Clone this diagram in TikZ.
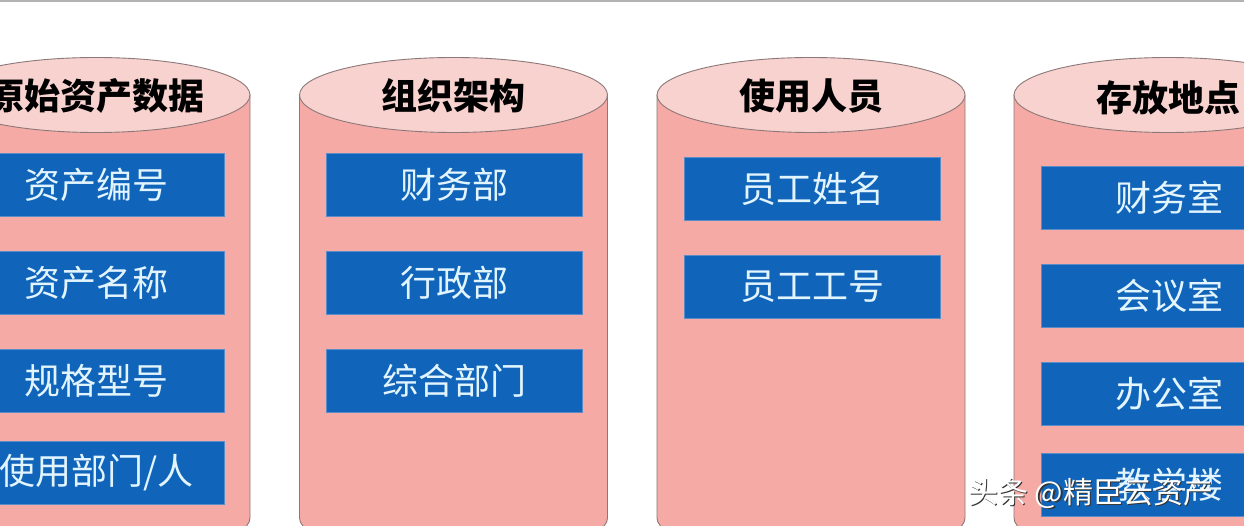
\documentclass[tikz,border=0pt]{standalone}
\usepackage{fontspec}
\newfontfamily\cjk{Noto Sans CJK SC}
\definecolor{bodypink}{RGB}{245,170,165}
\definecolor{toppink}{RGB}{248,210,207}
\definecolor{edgegray}{RGB}{140,120,120}
\definecolor{boxblue}{RGB}{16,100,185}
\definecolor{boxedge}{RGB}{90,140,200}
\definecolor{boxtext}{RGB}{226,245,255}
\tikzset{
  cylbody/.style={fill=bodypink, draw=edgegray, line width=0.9pt},
  cyltop/.style={fill=toppink, draw=edgegray, line width=0.9pt},
  title/.style={font=\cjk\bfseries\fontsize{36}{40}\selectfont, text=black, inner sep=0pt},
  field/.style={fill=boxblue, draw=boxedge, line width=0.8pt, minimum width=256pt, minimum height=63pt,
                inner sep=0pt, font=\cjk\fontsize{36}{40}\selectfont, text=boxtext},
  wm/.style={font=\cjk\fontsize{30}{34}\selectfont, inner sep=0pt, anchor=west}
}
\newcommand{\mycyl}[1]{%
  \path[cylbody] (#1-154,95) -- (#1-154,518) arc[start angle=180, end angle=0, x radius=154, y radius=37.5] -- (#1+154,95) -- cycle;
  \path[cyltop] (#1,95) ellipse[x radius=154, y radius=37.5];
}
\begin{document}
\begin{tikzpicture}[x=1pt,y=-1pt]
\useasboundingbox (0,0) rectangle (1244,526);
\fill[white] (0,0) rectangle (1244,526);
\clip (0,0) rectangle (1244,526);
\draw[gray!60, line width=2pt] (0,1) -- (1244,1);

\mycyl{96}
\mycyl{453.5}
\mycyl{811}
\mycyl{1168}

\node[title] (t1) at (96,96) {原始资产数据};
\node[title] (t2) at (453.5,96) {组织架构};
\node[title] (t3) at (811,96) {使用人员};
\node[title] (t4) at (1168,98) {存放地点};

\node[field] (a1) at (96.5,184.5) {资产编号};
\node[field] (a2) at (96.5,282.5) {资产名称};
\node[field] (a3) at (96.5,380.5) {规格型号};
\node[field] (a4) at (96.5,472.5) {使用部门/人};

\node[field] (b1) at (454.5,185) {财务部};
\node[field] (b2) at (454.5,282.5) {行政部};
\node[field] (b3) at (454.5,380.5) {综合部门};

\node[field] (c1) at (812,188.5) {员工姓名};
\node[field] (c2) at (812,286.5) {员工工号};

\node[field] (d1) at (1169,197.5) {财务室};
\node[field] (d2) at (1169,295.5) {会议室};
\node[field] (d3) at (1169,393.5) {办公室};
\node[field] (d4) at (1169,484.5) {教学楼};

\node[wm, text=black!80] (wms) at (969.5,494.5) {头条 @精臣云资产};
\node[wm, text=white] (wm) at (968,493) {头条 @精臣云资产};
\end{tikzpicture}
\end{document}
